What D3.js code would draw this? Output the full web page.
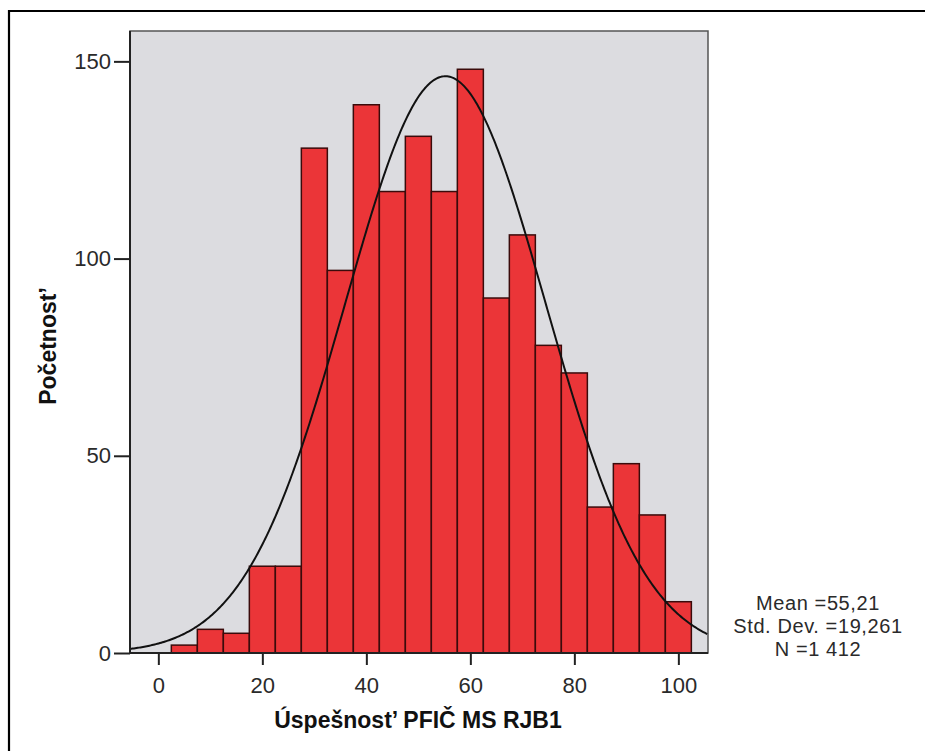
<!DOCTYPE html>
<html><head><meta charset="utf-8">
<script src="https://cdn.jsdelivr.net/npm/d3@7"></script>
<style>
body{margin:0;background:#fff;}
svg{display:block;}
</style></head>
<body>
<svg id="c" width="925" height="751"></svg>
<script>
// ---- data ----
const binCenters = [5,10,15,20,25,30,35,40,45,50,55,60,65,70,75,80,85,90,95,100];
const binCounts  = [2,6,5,22,22,128,97,139,117,131,117,148,90,106,78,71,37,48,35,13];
const binWidth = 5;
const xTicks = [0,20,40,60,80,100];
const yTicks = [0,50,100,150];
const statLabels = ["Mean =55,21","Std. Dev. =19,261","N =1 412"];
const meanVal = 55.21, sdVal = 19.261, nVal = 1412;
const xTitle = "Úspešnost’ PFIČ MS RJB1";
const yTitle = "Početnost’";

const svg = d3.select("#c");
const FONT = "'Liberation Sans Narrow','Arial Narrow','Liberation Sans',Arial,sans-serif";

const L=130, R=708, T=31, B=653;
const x = d3.scaleLinear().domain([-5.45,105.7]).range([L,R]);
const y = d3.scaleLinear().domain([0,157.7]).range([B,T]);

// outer frame
svg.append("path").attr("d","M9,751 V11 H925").attr("fill","none").attr("stroke","#000").attr("stroke-width",2.2);

// plot background
svg.append("rect").attr("x",L).attr("y",T).attr("width",R-L).attr("height",B-T)
  .attr("fill","#dcdce0").attr("stroke","#555").attr("stroke-width",1.5);

// bars
svg.append("g").selectAll("rect").data(binCenters).join("rect")
  .attr("x",d=>x(d-binWidth/2)).attr("width",d=>x(d+binWidth/2)-x(d-binWidth/2))
  .attr("y",(d,i)=>y(binCounts[i])).attr("height",(d,i)=>y(0)-y(binCounts[i]))
  .attr("fill","#eb3538").attr("stroke","#3a0b0b").attr("stroke-width",1.5);

// normal curve
const pdf = v => nVal*binWidth/(sdVal*Math.sqrt(2*Math.PI))*Math.exp(-0.5*((v-meanVal)/sdVal)**2);
const xs = d3.range(-5.45,105.71,0.25);
svg.append("path").datum(xs)
  .attr("d",d3.line().x(v=>x(v)).y(v=>y(pdf(v))))
  .attr("fill","none").attr("stroke","#111").attr("stroke-width",2);

// axes lines
svg.append("line").attr("x1",L).attr("x2",L).attr("y1",T).attr("y2",B).attr("stroke","#222").attr("stroke-width",2);
svg.append("line").attr("x1",L).attr("x2",R).attr("y1",B).attr("y2",B).attr("stroke","#222").attr("stroke-width",2);

// y axis
const ya = svg.append("g").attr("transform",`translate(${L},0)`)
  .call(d3.axisLeft(y).tickValues(yTicks).tickSize(16).tickPadding(3).tickFormat(d3.format("d")));
ya.select(".domain").remove();
ya.selectAll("line").attr("stroke","#222").attr("stroke-width",2);
ya.selectAll("text").attr("font-family",FONT).attr("font-size",22).attr("fill","#2a2a2a");

// x axis
const xa = svg.append("g").attr("transform",`translate(0,${B})`)
  .call(d3.axisBottom(x).tickValues(xTicks).tickSize(12).tickPadding(12).tickFormat(d3.format("d")));
xa.select(".domain").remove();
xa.selectAll("line").attr("stroke","#222").attr("stroke-width",2);
xa.selectAll("text").attr("font-family",FONT).attr("font-size",22).attr("fill","#2a2a2a");

// titles
svg.append("text").attr("x",418).attr("y",728).attr("text-anchor","middle")
  .attr("font-family",FONT).attr("font-weight","bold").attr("font-size",23).attr("fill","#111")
  .text(xTitle);
svg.append("text").attr("transform","translate(56,346) rotate(-90)").attr("text-anchor","middle")
  .attr("font-family",FONT).attr("font-weight","bold").attr("font-size",23).attr("fill","#111")
  .text(yTitle);

// stats
svg.append("g").selectAll("text").data(statLabels).join("text")
  .attr("x",818).attr("y",(d,i)=>610+i*23).attr("text-anchor","middle")
  .attr("font-family",FONT).attr("font-size",20).attr("letter-spacing",0.6).attr("fill","#2a2a2a")
  .text(d=>d);
</script>
</body></html>
